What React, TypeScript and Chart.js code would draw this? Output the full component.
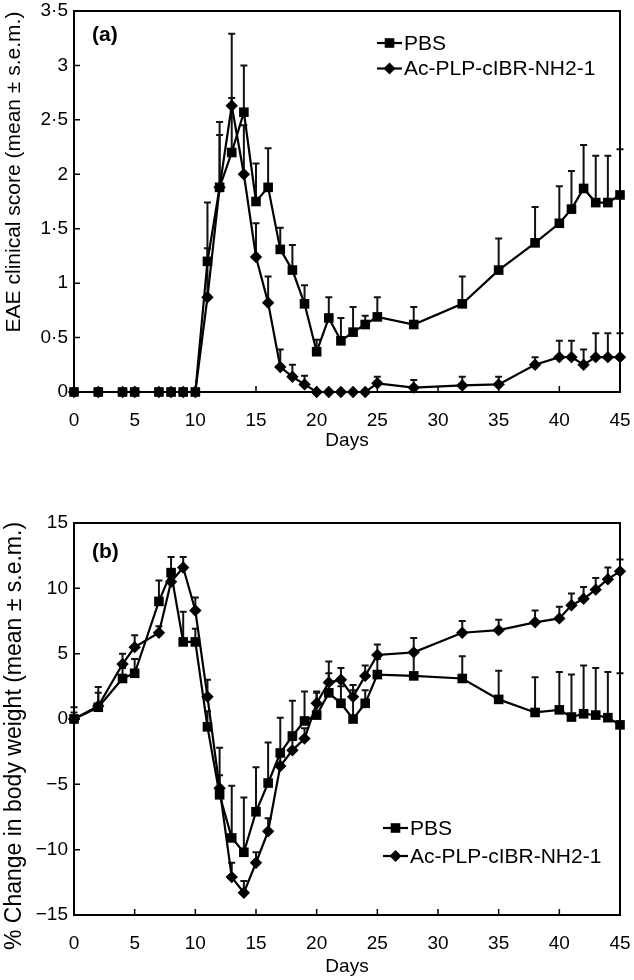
import React, { useEffect, useRef } from "react";
import { Chart, registerables } from "chart.js";

Chart.register(...registerables);

// ---------- data ----------
const days = [0, 2, 4, 5, 7, 8, 9, 10, 11, 12, 13, 14, 15, 16, 17, 18, 19, 20, 21, 22, 23, 24, 25, 28, 32, 35, 38, 40, 41, 42, 43, 44, 45];
const seriesLabels = ["PBS", "Ac-PLP-cIBR-NH2-1"];

// panel (a): EAE clinical score
const pbsScore = [0, 0, 0, 0, 0, 0, 0, 0, 1.2, 1.88, 2.2, 2.57, 1.75, 1.88, 1.31, 1.12, 0.81, 0.37, 0.68, 0.47, 0.55, 0.62, 0.69, 0.62, 0.81, 1.12, 1.37, 1.55, 1.68, 1.87, 1.74, 1.74, 1.81];
const pbsScoreErr = [0, 0, 0, 0, 0, 0, 0, 0, 0.54, 0.6, 0.5, 0.43, 0.35, 0.36, 0.2, 0.23, 0.17, 0.11, 0.19, 0.21, 0.23, 0.08, 0.18, 0.16, 0.25, 0.29, 0.33, 0.34, 0.35, 0.4, 0.43, 0.43, 0.42];
const peptideScore = [0, 0, 0, 0, 0, 0, 0, 0, 0.87, 1.88, 2.63, 2.0, 1.24, 0.82, 0.23, 0.14, 0.07, 0, 0, 0, 0, 0, 0.08, 0.04, 0.06, 0.07, 0.25, 0.32, 0.32, 0.25, 0.32, 0.32, 0.32];
const peptideScoreErr = [0, 0, 0, 0, 0, 0, 0, 0, 0.45, 0.48, 0.66, 0.45, 0.31, 0.24, 0.16, 0.11, 0.08, 0, 0, 0, 0, 0, 0.06, 0.07, 0.08, 0.07, 0.07, 0.15, 0.15, 0.14, 0.22, 0.22, 0.22];

// panel (b): % change in body weight
const pbsWeight = [0, 0.9, 3.1, 3.5, 9.0, 11.2, 5.9, 5.9, -0.6, -5.8, -9.1, -10.2, -7.1, -4.9, -2.6, -1.3, -0.15, 0.3, 2.0, 1.2, 0, 1.2, 3.4, 3.3, 3.1, 1.5, 0.5, 0.7, 0.15, 0.4, 0.3, 0.1, -0.45];
const pbsWeightErr = [0.9, 1.55, 0.8, 1.1, 1.6, 1.2, 2.3, 1.0, 1.2, 3.6, 4.0, 4.2, 3.4, 3.1, 2.7, 2.7, 2.25, 1.8, 1.5, 1.3, 2.2, 1.0, 1.2, 1.8, 1.7, 2.2, 2.7, 2.9, 3.25, 3.7, 3.6, 3.5, 3.95];
const peptideWeight = [0, 1.0, 4.2, 5.5, 6.6, 10.5, 11.6, 8.3, 1.7, -5.3, -12.1, -13.3, -11.0, -8.6, -3.6, -2.4, -1.5, 1.2, 2.8, 3.0, 1.7, 3.3, 4.9, 5.1, 6.6, 6.8, 7.4, 7.7, 8.7, 9.2, 9.9, 10.7, 11.3];
const peptideWeightErr = [0.5, 1.0, 0.8, 0.9, 0.5, 0.6, 0.8, 1.0, 1.3, 1.0, 1.1, 0.9, 0.8, 1.0, 0.8, 0.8, 0.8, 0.8, 1.6, 0.9, 0.9, 0.8, 0.8, 1.1, 0.9, 0.8, 0.9, 0.9, 0.9, 0.9, 0.9, 0.9, 0.9];

// axes
const xTicks = [0, 5, 10, 15, 20, 25, 30, 35, 40, 45];
const scoreTicks = [0, 0.5, 1, 1.5, 2, 2.5, 3, 3.5];
const weightTicks = [-15, -10, -5, 0, 5, 10, 15];
const xTitle = "Days";
const scoreTitle = "EAE clinical score (mean ± s.e.m.)";
const weightTitle = "% Change in body weight (mean ± s.e.m.)";
const panelLabels = ["(a)", "(b)"];

const FONT = "'Liberation Sans', Arial, Helvetica, sans-serif";

type PanelSpec = {
  height: number;
  padTop: number;
  padBottom: number;
  xAxisHeight: number;
  yMin: number;
  yMax: number;
  yTicks: number[];
  yFormat: (v: number) => string;
  series: number[][];
  errors: number[][];
  panelLabel: string;
  panelLabelY: number;
  yTitle: string;
  yTitleX: number;
  yTitleY: number;
  yTitleSize: number;
  legendX: number;
  legendTextX: number;
  legendY: number;
  legendGap: number;
};

function makeConfig(p: PanelSpec): any {
  const pointStyles = ["rect", "rectRot"];
  const radii = [6.8, 6.2];
  const decor = {
    id: "decor" + p.panelLabel,
    beforeDatasetsDraw(chart: any) {
      const ctx = chart.ctx;
      const ys = chart.scales.y;
      ctx.save();
      ctx.strokeStyle = "#111";
      ctx.lineWidth = 2;
      p.errors.forEach((errs, di) => {
        const meta = chart.getDatasetMeta(di);
        meta.data.forEach((pt: any, j: number) => {
          const e = errs[j];
          if (!e) return;
          const v = p.series[di][j];
          const yTop = ys.getPixelForValue(v + e);
          ctx.beginPath();
          ctx.moveTo(pt.x, pt.y);
          ctx.lineTo(pt.x, yTop);
          ctx.moveTo(pt.x - 3.5, yTop);
          ctx.lineTo(pt.x + 3.5, yTop);
          ctx.stroke();
        });
      });
      ctx.restore();
    },
    afterDraw(chart: any) {
      const ctx = chart.ctx;
      const a = chart.chartArea;
      const xs = chart.scales.x;
      const ys = chart.scales.y;
      ctx.save();
      // frame
      ctx.strokeStyle = "#000";
      ctx.lineWidth = 2;
      ctx.strokeRect(a.left, a.top, a.right - a.left, a.bottom - a.top);
      // inward ticks
      ctx.lineWidth = 1.5;
      ctx.beginPath();
      xTicks.forEach((v) => {
        const x = xs.getPixelForValue(v);
        ctx.moveTo(x, a.bottom);
        ctx.lineTo(x, a.bottom - 6);
      });
      p.yTicks.forEach((v) => {
        const y = ys.getPixelForValue(v);
        ctx.moveTo(a.left, y);
        ctx.lineTo(a.left + 6, y);
      });
      ctx.stroke();
      // panel label
      ctx.fillStyle = "#000";
      ctx.font = "bold 21px " + FONT;
      ctx.textAlign = "left";
      ctx.textBaseline = "middle";
      ctx.fillText(p.panelLabel, 92, p.panelLabelY);
      // legend
      ctx.font = "21px " + FONT;
      seriesLabels.forEach((lab, i) => {
        const y = p.legendY + i * p.legendGap;
        const x1 = p.legendX;
        const x2 = p.legendTextX - 2;
        const cx = (x1 + x2) / 2;
        ctx.lineWidth = 2.2;
        ctx.beginPath();
        ctx.moveTo(x1, y);
        ctx.lineTo(x2, y);
        ctx.stroke();
        ctx.beginPath();
        if (i === 0) {
          ctx.rect(cx - 4.8, y - 4.8, 9.6, 9.6);
        } else {
          ctx.moveTo(cx, y - 6);
          ctx.lineTo(cx + 6, y);
          ctx.lineTo(cx, y + 6);
          ctx.lineTo(cx - 6, y);
          ctx.closePath();
        }
        ctx.fill();
        ctx.fillText(lab, p.legendTextX, y + 1);
      });
      // y title
      ctx.font = p.yTitleSize + "px " + FONT;
      ctx.textAlign = "center";
      ctx.translate(p.yTitleX, p.yTitleY);
      ctx.rotate(-Math.PI / 2);
      ctx.fillText(p.yTitle, 0, 0);
      ctx.restore();
    },
  };

  return {
    type: "line",
    data: {
      datasets: p.series.map((vals, i) => ({
        label: seriesLabels[i],
        data: days.map((d, j) => ({ x: d, y: vals[j] })),
        borderColor: "#000",
        backgroundColor: "#000",
        borderWidth: 2.2,
        tension: 0,
        pointStyle: pointStyles[i],
        pointRadius: radii[i],
        pointBackgroundColor: "#000",
        pointBorderColor: "#000",
        pointBorderWidth: 0,
        clip: false,
      })),
    },
    options: {
      animation: false,
      responsive: false,
      devicePixelRatio: 1,
      layout: { padding: { top: p.padTop, right: 14, bottom: p.padBottom, left: 0 } },
      plugins: { legend: { display: false }, tooltip: { enabled: false } },
      scales: {
        x: {
          type: "linear",
          min: 0,
          max: 45,
          afterBuildTicks: (s: any) => {
            s.ticks = xTicks.map((v) => ({ value: v }));
          },
          afterFit: (s: any) => {
            s.height = p.xAxisHeight;
            s.paddingLeft = 0;
            s.paddingRight = 0;
          },
          grid: { display: false, drawTicks: false },
          border: { display: false },
          ticks: {
            padding: 17,
            autoSkip: false,
            maxRotation: 0,
            color: "#000",
            font: { family: FONT, size: 19 },
          },
          title: {
            display: true,
            text: xTitle,
            color: "#000",
            padding: 0,
            font: { family: FONT, size: 19 },
          },
        },
        y: {
          type: "linear",
          min: p.yMin,
          max: p.yMax,
          afterBuildTicks: (s: any) => {
            s.ticks = p.yTicks.map((v) => ({ value: v }));
          },
          afterFit: (s: any) => {
            s.width = 74;
            s.paddingTop = 0;
            s.paddingBottom = 0;
          },
          grid: { display: false, drawTicks: false },
          border: { display: false },
          ticks: {
            padding: 6,
            autoSkip: false,
            color: "#000",
            font: { family: FONT, size: 19 },
            callback: (v: any) => p.yFormat(Number(v)),
          },
        },
      },
    },
    plugins: [decor],
  };
}

const topSpec: PanelSpec = {
  height: 452,
  padTop: 11,
  padBottom: 0,
  xAxisHeight: 60,
  yMin: 0,
  yMax: 3.5,
  yTicks: scoreTicks,
  yFormat: (v) => String(v).replace(".", "·"),
  series: [pbsScore, peptideScore],
  errors: [pbsScoreErr, peptideScoreErr],
  panelLabel: panelLabels[0],
  panelLabelY: 35,
  yTitle: scoreTitle,
  yTitleX: 14,
  yTitleY: 172,
  yTitleSize: 21,
  legendX: 377,
  legendTextX: 404,
  legendY: 43,
  legendGap: 25.5,
};

const bottomSpec: PanelSpec = {
  height: 528,
  padTop: 71,
  padBottom: 2,
  xAxisHeight: 63,
  yMin: -15,
  yMax: 15,
  yTicks: weightTicks,
  yFormat: (v) => String(v).replace("-", "\u2212"),
  series: [pbsWeight, peptideWeight],
  errors: [pbsWeightErr, peptideWeightErr],
  panelLabel: panelLabels[1],
  panelLabelY: 100,
  yTitle: weightTitle,
  yTitleX: 15,
  yTitleY: 284,
  yTitleSize: 23,
  legendX: 383,
  legendTextX: 410,
  legendY: 376,
  legendGap: 28,
};

export default function App() {
  const topRef = useRef<HTMLCanvasElement | null>(null);
  const botRef = useRef<HTMLCanvasElement | null>(null);

  useEffect(() => {
    const charts: Chart[] = [];
    if (topRef.current) charts.push(new Chart(topRef.current, makeConfig(topSpec)));
    if (botRef.current) charts.push(new Chart(botRef.current, makeConfig(bottomSpec)));
    return () => charts.forEach((c) => c.destroy());
  }, []);

  return (
    <div style={{ position: "absolute", left: 0, top: 0, width: 634, height: 980, background: "#fff" }}>
      <canvas ref={topRef} width={634} height={topSpec.height} style={{ position: "absolute", left: 0, top: 0, width: 634, height: topSpec.height }} />
      <canvas ref={botRef} width={634} height={bottomSpec.height} style={{ position: "absolute", left: 0, top: topSpec.height, width: 634, height: bottomSpec.height }} />
    </div>
  );
}
